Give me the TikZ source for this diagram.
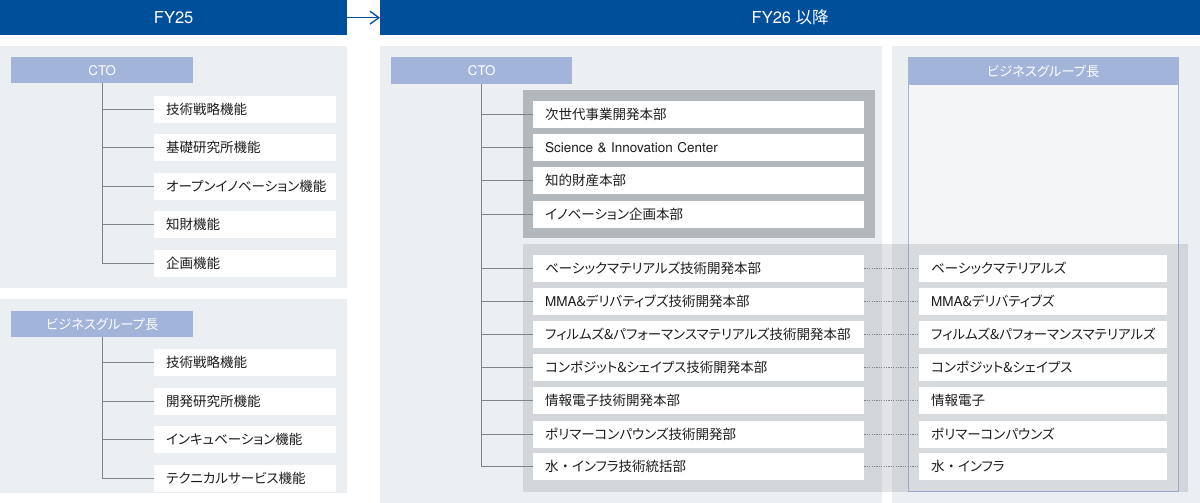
\documentclass[tikz,border=0pt]{standalone}
\usepackage{fontspec}
\setmainfont[RawFeature=+palt]{Noto Sans CJK JP}
\newfontfamily\jpfull{Noto Sans CJK JP}
\newfontfamily\lat{TeX Gyre Heros}
\newcommand{\nkdot}{{\jpfull ・}}
\usetikzlibrary{arrows.meta}
\definecolor{navy}{HTML}{004F9B}
\definecolor{panel}{HTML}{ECEFF2}
\definecolor{inner}{HTML}{F3F5F7}
\definecolor{head}{HTML}{A3B4DB}
\definecolor{dgray}{HTML}{B2B8BB}
\definecolor{veil}{HTML}{888F96}
\definecolor{conn}{HTML}{808488}
\definecolor{ink}{HTML}{1C1C1C}
\tikzset{
  bar/.style={fill=navy, text=white, inner sep=0pt, font=\lat\fontsize{16.5}{18}\selectfont},
  hd/.style={fill=head, text=white, inner sep=0pt, font=\fontsize{13.3}{15}\selectfont},
  itembox/.style={fill=white, text=ink, anchor=west, minimum height=27pt, inner xsep=12pt, inner ysep=0pt,
    align=left, font=\fontsize{13.5}{15}\selectfont},
  lbox/.style={itembox, text width=158pt},
  cbox/.style={itembox, text width=307pt},
  rbox/.style={itembox, text width=224pt},
  tree/.style={draw=conn, line width=0.9pt},
  dots/.style={draw=conn, line width=0.8pt, dash pattern=on 1.2pt off 1.2pt},
}
\begin{document}
\begin{tikzpicture}[x=1pt,y=-1pt]
\useasboundingbox (0,0) rectangle (1200,503);
% header bars
\node[bar, minimum width=347pt, minimum height=35pt, anchor=north west] (fy25) at (0,0) {FY25};
\node[bar, minimum width=820pt, minimum height=35pt, anchor=north west] (fy26) at (380,0) {FY26 {\fontspec[RawFeature=+palt]{Noto Sans CJK JP}以降}};
\draw[navy, line width=1.3pt, -{Straight Barb[length=9pt,width=13pt,line width=1.3pt]}] (fy25.east) -- (fy26.west);
% panels
\fill[panel] (0,46) rectangle (347,288);
\fill[panel] (0,299) rectangle (347,493);
\fill[panel] (380,46) rectangle (882,503);
\fill[panel] (892,46) rectangle (1200,503);
% right business group box
\draw[draw=head, fill=inner, line width=0.8pt] (908,57) rectangle (1178,491);
\node[hd, minimum width=270pt, minimum height=28pt, anchor=north west] (bg2) at (908,57) {ビジネスグループ長};
% dark box and translucent box
\fill[dgray] (523,90) rectangle (875,238);
\fill[veil, fill opacity=0.25] (523,244) rectangle (1188,492);
% left CTO
\node[hd, minimum width=182pt, minimum height=26pt, anchor=north west] (cto1) at (11,57) {\lat CTO};
\node[lbox] (a1) at (154,109.5) {技術戦略機能};
\node[lbox] (a2) at (154,147.5) {基礎研究所機能};
\node[lbox] (a3) at (154,186) {オープンイノベーション機能};
\node[lbox] (a4) at (154,224.5) {知財機能};
\node[lbox] (a5) at (154,263.5) {企画機能};
\draw[tree] (cto1.south) |- (a5.west);
\foreach \i in {1,2,3,4} \draw[tree] (cto1.south |- a\i.west) -- (a\i.west);
% left business group
\node[hd, minimum width=182pt, minimum height=26pt, anchor=north west] (bg1) at (11,311) {ビジネスグループ長};
\node[lbox] (b1) at (154,362.5) {技術戦略機能};
\node[lbox] (b2) at (154,401) {開発研究所機能};
\node[lbox] (b3) at (154,439.5) {インキュベーション機能};
\node[lbox] (b4) at (154,478) {テクニカルサービス機能};
\draw[tree] (bg1.south) |- (b4.west);
\foreach \i in {1,2,3} \draw[tree] (bg1.south |- b\i.west) -- (b\i.west);
% center CTO
\node[hd, minimum width=181pt, minimum height=27pt, anchor=north west] (cto2) at (391,57) {\lat CTO};
\node[cbox] (c1) at (533,114.5) {次世代事業開発本部};
\node[cbox] (c2) at (533,147.5) {\lat Science \& Innovation Center};
\node[cbox] (c3) at (533,180.5) {知的財産本部};
\node[cbox] (c4) at (533,214) {イノベーション企画本部};
\node[cbox] (d1) at (533,268.5) {ベーシックマテリアルズ技術開発本部};
\node[cbox] (d2) at (533,301.5) {{\lat MMA}\&デリバティブズ技術開発本部};
\node[cbox] (d3) at (533,334.5) {フィルムズ\&パフォーマンスマテリアルズ技術開発本部};
\node[cbox] (d4) at (533,367.5) {コンポジット\&シェイプス技術開発本部};
\node[cbox] (d5) at (533,400.5) {情報電子技術開発本部};
\node[cbox] (d6) at (533,434) {ポリマーコンパウンズ技術開発部};
\node[cbox] (d7) at (533,466.5) {水\nkdot インフラ技術統括部};
\draw[tree] (cto2.south) |- (d7.west);
\foreach \n in {c1,c2,c3,c4,d1,d2,d3,d4,d5,d6} \draw[tree] (cto2.south |- \n.west) -- (\n.west);
% right items
\node[rbox] (e1) at (919,268.5) {ベーシックマテリアルズ};
\node[rbox] (e2) at (919,301.5) {{\lat MMA}\&デリバティブズ};
\node[rbox] (e3) at (919,334.5) {フィルムズ\&パフォーマンスマテリアルズ};
\node[rbox] (e4) at (919,367.5) {コンポジット\&シェイプス};
\node[rbox] (e5) at (919,400.5) {情報電子};
\node[rbox] (e6) at (919,434) {ポリマーコンパウンズ};
\node[rbox] (e7) at (919,466.5) {水\nkdot インフラ};
\foreach \i in {1,...,7} \draw[dots] (d\i.east) -- (e\i.west);
\end{tikzpicture}
\end{document}
